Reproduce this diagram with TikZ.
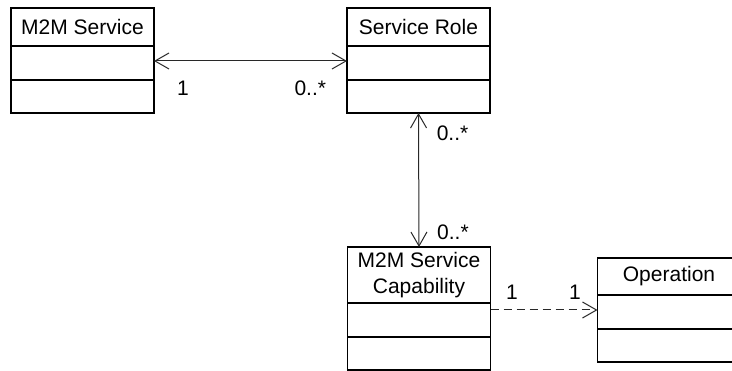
\documentclass[tikz,border=0pt]{standalone}
\usepackage{tikz}
\usepackage{fontspec}
\setmainfont{Liberation Sans}
\usetikzlibrary{arrows.meta, positioning, calc}
\definecolor{umlline}{RGB}{40,40,40}
\tikzset{
    classhead/.style={draw, line width=1.6pt, inner sep=0pt, outer sep=0pt, minimum width=143pt,
        align=center, font=\fontsize{21}{26}\selectfont},
    classpart/.style={draw, line width=1.6pt, inner sep=0pt, outer sep=0pt, minimum width=143pt, minimum height=34pt},
    assoc/.style={draw=umlline, line width=1pt, {Straight Barb[length=14pt, width=16pt]}-{Straight Barb[length=14pt, width=16pt]}},
    depend/.style={draw=umlline, line width=1pt, dash pattern=on 8pt off 5pt, -{Straight Barb[length=14pt, width=16pt]}},
    mult/.style={font=\fontsize{21}{24}\selectfont, inner sep=0pt}
}

\begin{document}
\begin{tikzpicture}[x=1pt, y=-1pt]
        \useasboundingbox (0,0) rectangle (732,371);
        \clip (0,0) rectangle (732,371);

        % classes
        \node[classhead, minimum height=38pt] (svc) at (82.5,27) {M2M Service};
        \node[classpart, below=0pt of svc] (svc-a) {};
        \node[classpart, minimum height=33pt, below=0pt of svc-a] (svc-b) {};

        \node[classhead, minimum height=38pt] (role) at (418.5,27) {Service Role};
        \node[classpart, below=0pt of role] (role-a) {};
        \node[classpart, minimum height=33pt, below=0pt of role-a] (role-b) {};

        \node[classhead, minimum height=56pt] (cap) at (419,275) {M2M Service\\Capability};
        \node[classpart, below=0pt of cap] (cap-a) {};
        \node[classpart, minimum height=33pt, below=0pt of cap-a] (cap-b) {};

        \node[classhead, minimum height=37pt] (op) at (669,276.5) {Operation};
        \node[classpart, below=0pt of op] (op-a) {};
        \node[classpart, minimum height=33pt, below=0pt of op-a] (op-b) {};

        % relations
        \draw[assoc] ($(svc-a.east)+(0,-2)$) -- ($(role-a.west)+(0,-2)$)
            node[mult, pos=0.15, yshift=-27pt] {1}
            node[mult, pos=0.81, yshift=-27pt] {0..*};
        \draw[assoc] (role-b.south) -- (cap.north)
            node[mult, pos=0.15, xshift=34pt] {0..*}
            node[mult, pos=0.89, xshift=34pt] {0..*};
        \draw[depend] ($(op-a.west -| cap-a.east)+(0,-2)$) -- ($(op-a.west)+(0,-2)$)
            node[mult, pos=0.2, yshift=18pt] {1}
            node[mult, pos=0.79, yshift=18pt] {1};
    \end{tikzpicture}
\end{document}
